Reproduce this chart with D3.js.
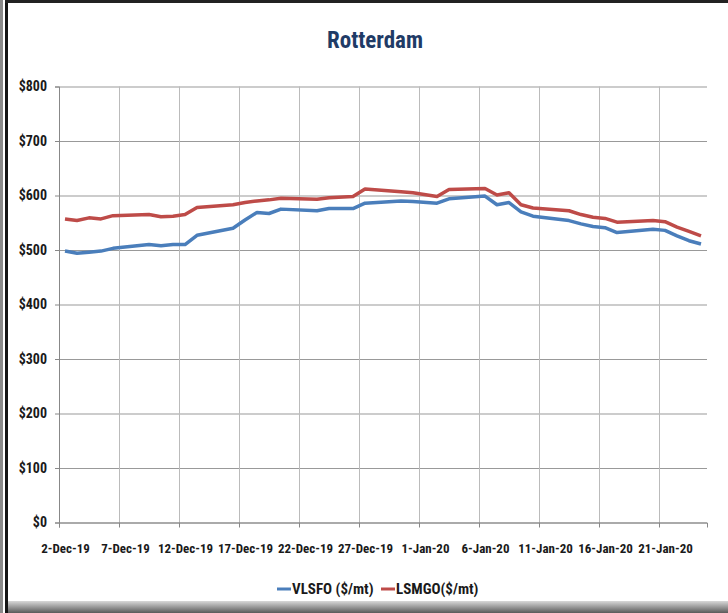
<!DOCTYPE html>
<html lang="en">
<head>
	<meta charset="UTF-8">
	<title>Rotterdam</title>
	<style>
		body { margin: 0; background: #fff; }
		text { font-family: "Liberation Sans Narrow", "Arial Narrow", "Roboto Condensed", sans-serif; font-weight: bold; }
	</style>
</head>
<body>
	<svg id="chart" width="728" height="613"></svg>
</body>
<script src="https://cdn.jsdelivr.net/npm/d3@7/dist/d3.min.js"></script>
<script>
	// business days
	var dates = [
		"2019-12-02", "2019-12-03", "2019-12-04", "2019-12-05", "2019-12-06",
		"2019-12-09", "2019-12-10", "2019-12-11", "2019-12-12", "2019-12-13",
		"2019-12-16", "2019-12-17", "2019-12-18", "2019-12-19", "2019-12-20",
		"2019-12-23", "2019-12-24", "2019-12-26", "2019-12-27",
		"2019-12-30", "2019-12-31", "2020-01-02", "2020-01-03",
		"2020-01-06", "2020-01-07", "2020-01-08", "2020-01-09", "2020-01-10",
		"2020-01-13", "2020-01-14", "2020-01-15", "2020-01-16", "2020-01-17",
		"2020-01-20", "2020-01-21", "2020-01-22", "2020-01-23", "2020-01-24"
	];
	var vlsfo = [
		498, 494, 496, 498, 503,
		510, 508, 510, 510, 527,
		540, 555, 569, 567, 575,
		572, 576, 576, 586,
		590, 589, 586, 594,
		599, 583, 587, 570, 562,
		554, 548, 543, 541, 532,
		538, 536, 526, 517, 511
	];
	var lsmgo = [
		557, 554, 559, 557, 563,
		565, 561, 562, 565, 578,
		583, 587, 590, 592, 595,
		593, 596, 598, 612,
		607, 605, 598, 611,
		613, 601, 605, 583, 577,
		572, 565, 560, 558, 551,
		554, 552, 542, 534, 526
	];
	var seriesNames = ["VLSFO ($/mt)", "LSMGO($/mt)"];
	var seriesColors = ["#4a7ebb", "#be4b48"];
	var yTicks = [0, 100, 200, 300, 400, 500, 600, 700, 800];
	var xTicks = ["2019-12-02", "2019-12-07", "2019-12-12", "2019-12-17", "2019-12-22", "2019-12-27",
		"2020-01-01", "2020-01-06", "2020-01-11", "2020-01-16", "2020-01-21"];
	var xStart = "2019-12-02", xEnd = "2020-01-25";

	var parse = d3.utcParse("%Y-%m-%d");
	var fmt = d3.utcFormat("%-d-%b-%y");

	var svg = d3.select("#chart");
	var plotL = 59, plotR = 707, plotT = 86.5, plotB = 522.5;

	var x = d3.scaleUtc().domain([parse(xStart), parse(xEnd)]).range([plotL, plotR]);
	var y = d3.scaleLinear().domain([0, 800]).range([plotB, plotT]);
	var halfDay = (x(parse("2019-12-03")) - x(parse("2019-12-02"))) / 2;

	// frame
	svg.append("rect").attr("x", 0).attr("y", 0).attr("width", 728).attr("height", 613).attr("fill", "#fff");
	var grad = svg.append("defs").append("linearGradient").attr("id", "shade").attr("x1", 0).attr("x2", 0).attr("y1", 0).attr("y2", 1);
	grad.append("stop").attr("offset", "0%").attr("stop-color", "#d8d8d8");
	grad.append("stop").attr("offset", "100%").attr("stop-color", "#5a5a5a");
	svg.append("rect").attr("x", 8).attr("y", 601).attr("width", 720).attr("height", 12).attr("fill", "url(#shade)");
	svg.append("rect").attr("x", 0).attr("y", 0).attr("width", 3).attr("height", 613).attr("fill", "#8a8a8a");
	svg.append("rect").attr("x", 5).attr("y", 0).attr("width", 3).attr("height", 613).attr("fill", "#151515");
	svg.append("rect").attr("x", 5).attr("y", 0).attr("width", 723).attr("height", 3).attr("fill", "#222");

	// grid
	svg.append("g")
		.attr("transform", `translate(${plotL},0)`)
		.call(d3.axisLeft(y).tickValues(yTicks).tickSize(-(plotR - plotL)).tickFormat(""))
		.call(g => g.select(".domain").remove())
		.call(g => g.selectAll("line").attr("stroke", "#999"));
	svg.append("g")
		.attr("transform", `translate(0,${plotB})`)
		.call(d3.axisBottom(x).tickValues(xTicks.map(parse)).tickSize(-(plotB - plotT)).tickFormat(""))
		.call(g => g.select(".domain").remove())
		.call(g => g.selectAll("line").attr("stroke", "#bbb"));

	// axes
	svg.append("g")
		.attr("transform", `translate(${plotL},0)`)
		.call(d3.axisLeft(y).tickValues(yTicks).tickSize(4).tickPadding(8).tickFormat(d => "$" + d))
		.call(g => g.select(".domain").attr("stroke", "#888"))
		.call(g => g.selectAll("line").attr("stroke", "#888"))
		.call(g => g.selectAll("text").attr("font-size", 14).attr("fill", "#1a1a1a"));
	svg.append("g")
		.attr("transform", `translate(0,${plotB})`)
		.call(d3.axisBottom(x).tickValues(xTicks.map(parse)).tickSize(5).tickPadding(16).tickFormat(fmt))
		.call(g => g.select(".domain").attr("stroke", "#888"))
		.call(g => g.selectAll("line").attr("stroke", "#888"))
		.call(g => g.selectAll("text").attr("x", halfDay).attr("font-size", 13).attr("fill", "#1a1a1a"));

	// lines
	var line = d3.line()
		.x(d => x(d3.utcHour.offset(d.date, 12)))
		.y(d => y(d.value));
	[vlsfo, lsmgo].forEach(function(vals, i) {
		var pts = dates.map((s, j) => ({date: parse(s), value: vals[j]}));
		svg.append("path")
			.datum(pts)
			.attr("fill", "none")
			.attr("stroke", seriesColors[i])
			.attr("stroke-width", 3.5)
			.attr("stroke-linejoin", "round")
			.attr("d", line);
	});

	// title
	svg.append("text")
		.attr("x", 375).attr("y", 48)
		.attr("text-anchor", "middle")
		.attr("font-size", 23)
		.attr("fill", "#1f3b66")
		.text("Rotterdam");

	// legend
	var legendX = [277, 381];
	seriesNames.forEach(function(name, i) {
		var g = svg.append("g").attr("transform", `translate(${legendX[i]},589)`);
		g.append("line").attr("x1", 0).attr("x2", 14).attr("stroke", seriesColors[i]).attr("stroke-width", 3);
		g.append("text").attr("x", 15).attr("y", 5).attr("font-size", 15).attr("fill", "#1a1a1a").text(name);
	});
</script>
</html>
